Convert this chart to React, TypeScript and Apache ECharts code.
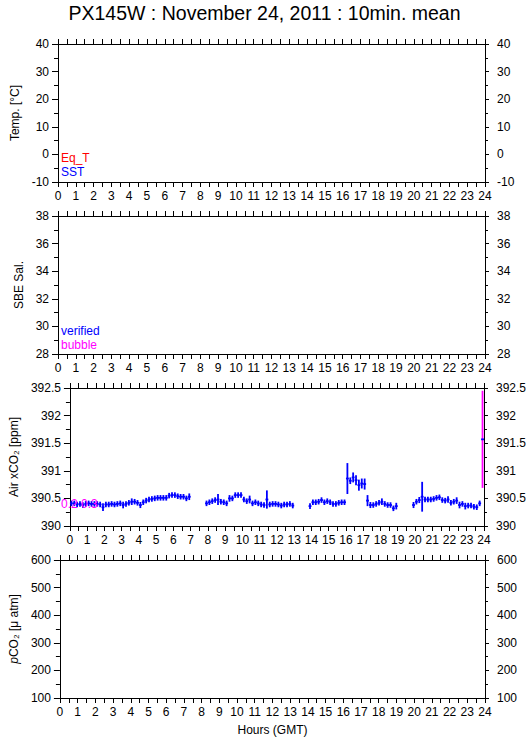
import React, { useEffect, useRef } from "react";
import * as echarts from "echarts";

const TITLE = "PX145W : November 24, 2011 : 10min. mean";
const FONT = '"Liberation Sans", Arial, Helvetica, sans-serif';

// Hour ticks of the shared time axis
const HOUR_MIN = 0;
const HOUR_MAX = 24;

// Y-axis ranges of the four panels
const tempRange = { min: -10, max: 40, interval: 10 };
const salRange = { min: 28, max: 38, interval: 2 };
const xco2Range = { min: 390, max: 392.5, interval: 0.5 };
const pco2Range = { min: 100, max: 600, interval: 100 };

// Air xCO2, verified 10-min means: time (minutes GMT), mean (ppm), std dev (ppm)
const xco2Minute = [
  5, 15, 25, 35, 45, 55, 65, 75, 85, 95, 105, 115, 125, 135, 145, 155, 165, 175, 185, 195,
  205, 215, 225, 235, 245, 255, 265, 275, 285, 295, 305, 315, 325, 335, 345, 355, 365, 375, 385, 395,
  405, 415,
  475, 485, 495, 505, 515, 525, 535, 545, 555, 565, 575, 585, 595, 605, 615, 625, 635, 645, 655, 665,
  675, 685, 695, 705, 715, 725, 735, 745, 755, 765, 775,
  835, 845, 855, 865, 875, 885, 895, 905, 915, 925, 935, 945, 955, 965, 975, 985, 995, 1005, 1015, 1025,
  1035, 1045, 1055, 1065, 1075, 1085, 1095, 1105, 1115, 1125, 1135,
  1195, 1205, 1215, 1225, 1235, 1245, 1255, 1265, 1275, 1285, 1295, 1305, 1315, 1325, 1335, 1345, 1355,
  1365, 1375, 1385, 1395, 1405, 1415, 1425,
];
const xco2Value = [
  390.41, 390.41, 390.39, 390.40, 390.38, 390.40, 390.41, 390.40, 390.40, 390.40,
  390.39, 390.34, 390.39, 390.39, 390.40, 390.39, 390.40, 390.41, 390.38, 390.40,
  390.42, 390.44, 390.44, 390.42, 390.38, 390.43, 390.46, 390.48, 390.49, 390.50,
  390.51, 390.51, 390.51, 390.51, 390.55, 390.56, 390.56, 390.54, 390.53, 390.53,
  390.50, 390.53,
  390.41, 390.43, 390.45, 390.47, 390.48, 390.44, 390.43, 390.41, 390.50, 390.50,
  390.56, 390.56, 390.56, 390.48, 390.45, 390.48, 390.41, 390.43, 390.41, 390.39,
  390.38, 390.48, 390.39, 390.40, 390.40, 390.39, 390.37, 390.39, 390.39, 390.40,
  390.37,
  390.36, 390.43, 390.43, 390.44, 390.47, 390.43, 390.45, 390.43, 390.40, 390.40,
  390.42, 390.43, 390.43, 390.86, 390.82, 390.88, 390.83, 390.74, 390.77, 390.76,
  390.46, 390.38, 390.38, 390.40, 390.42, 390.44, 390.40, 390.38, 390.38, 390.32,
  390.36,
  390.38, 390.44, 390.47, 390.53, 390.48, 390.48, 390.48, 390.49, 390.51, 390.52,
  390.47, 390.46, 390.48, 390.42, 390.44, 390.46, 390.38, 390.40, 390.36, 390.37,
  390.37, 390.35, 390.34, 390.41,
];
const xco2Sd = [
  0.05, 0.05, 0.05, 0.05, 0.05, 0.05, 0.05, 0.05, 0.05, 0.05,
  0.05, 0.07, 0.05, 0.05, 0.05, 0.05, 0.05, 0.05, 0.06, 0.05,
  0.05, 0.06, 0.05, 0.05, 0.055, 0.05, 0.05, 0.05, 0.05, 0.05,
  0.05, 0.05, 0.05, 0.05, 0.05, 0.05, 0.05, 0.05, 0.05, 0.05,
  0.05, 0.06,
  0.05, 0.05, 0.05, 0.05, 0.10, 0.05, 0.05, 0.05, 0.06, 0.05,
  0.05, 0.05, 0.05, 0.05, 0.05, 0.07, 0.05, 0.05, 0.05, 0.05,
  0.05, 0.165, 0.05, 0.05, 0.05, 0.05, 0.05, 0.05, 0.05, 0.05,
  0.05,
  0.05, 0.05, 0.05, 0.05, 0.05, 0.05, 0.05, 0.05, 0.05, 0.05,
  0.05, 0.05, 0.05, 0.28, 0.06, 0.09, 0.09, 0.10, 0.09, 0.10,
  0.10, 0.055, 0.05, 0.05, 0.05, 0.06, 0.05, 0.05, 0.05, 0.05,
  0.06,
  0.055, 0.05, 0.055, 0.27, 0.05, 0.05, 0.05, 0.05, 0.05, 0.05,
  0.05, 0.05, 0.06, 0.05, 0.05, 0.06, 0.06, 0.05, 0.06, 0.05,
  0.05, 0.05, 0.05, 0.05,
];

// Air xCO2, bubble-flagged 10-min mean
const bubbleMinute = [1435];
const bubbleValue = [391.57];
const bubbleSd = [0.88];

const BLUE = "#0000ff";
const MAGENTA = "#ff00ff";
const RED = "#ff0000";

const GRID_TOPS = [44, 216, 388, 560];
const GRID_H = 138;
const GRID_LEFT = 58;
const GRID_RIGHT = 44;

const blackLine = { color: "#000", width: 1 };

function makeCrossRenderer(vColor: string) {
  return (params: any, api: any) => {
    const t = api.value(0);
    const v = api.value(1);
    const sd = api.value(2);
    const c = api.coord([t, v]);
    const l = api.coord([t - 5 / 60, v]);
    const r = api.coord([t + 5 / 60, v]);
    const top = api.coord([t, v + sd]);
    const bot = api.coord([t, v - sd]);
    return {
      type: "group",
      children: [
        {
          type: "line",
          shape: { x1: c[0], y1: top[1], x2: c[0], y2: bot[1] },
          style: { stroke: vColor, lineWidth: 1.8 },
        },
        {
          type: "line",
          shape: { x1: l[0], y1: c[1], x2: r[0], y2: c[1] },
          style: { stroke: BLUE, lineWidth: 1.8 },
        },
      ],
    };
  };
}

export default function App() {
  const ref = useRef<HTMLDivElement>(null);

  useEffect(() => {
    if (!ref.current) return;
    const chart = echarts.init(ref.current, undefined, { renderer: "svg" });

    const ranges = [tempRange, salRange, xco2Range, pco2Range];
    const names = [
      { text: "Temp. [°C]", gap: 29 },
      { text: "SBE Sal.", gap: 29 },
      { text: "Air xCO₂ [ppm]", gap: 41 },
      { text: "{i|p}CO₂ [μ atm]", gap: 31 },
    ];

    const grids = GRID_TOPS.map((top) => ({
      left: GRID_LEFT,
      right: GRID_RIGHT,
      top,
      height: GRID_H,
      containLabel: false,
    }));

    const xAxes: any[] = [];
    const yAxes: any[] = [];
    GRID_TOPS.forEach((_, i) => {
      const common = {
        type: "value",
        gridIndex: i,
        min: HOUR_MIN,
        max: HOUR_MAX,
        interval: 1,
        axisLine: { show: true, onZero: false, lineStyle: blackLine },
        axisTick: { show: true, inside: false, length: 5, lineStyle: blackLine },
        minorTick: { show: true, splitNumber: 2, length: 5, lineStyle: blackLine },
        splitLine: { show: false },
        minorSplitLine: { show: false },
      };
      xAxes.push({
        ...common,
        position: "bottom",
        axisLabel: { show: true, color: "#000", fontSize: 12, fontFamily: FONT, margin: 8 },
        name: i === 3 ? "Hours (GMT)" : "",
        nameLocation: "middle",
        nameGap: 26,
        nameTextStyle: { color: "#000", fontSize: 12, fontFamily: FONT },
      });
      xAxes.push({
        ...common,
        position: "top",
        axisLabel: { show: false },
      });

      const rg = ranges[i];
      const ycommon = {
        type: "value",
        gridIndex: i,
        min: rg.min,
        max: rg.max,
        interval: rg.interval,
        axisLine: { show: true, onZero: false, lineStyle: blackLine },
        splitLine: { show: false },
        minorSplitLine: { show: false },
      };
      yAxes.push({
        ...ycommon,
        position: "left",
        axisTick: { show: true, inside: false, length: 6, lineStyle: blackLine },
        minorTick: { show: true, splitNumber: 2, length: 4, lineStyle: blackLine },
        axisLabel: { show: true, color: "#000", fontSize: 12, fontFamily: FONT, margin: 9 },
        name: names[i].text,
        nameLocation: "middle",
        nameGap: names[i].gap,
        nameTextStyle: {
          color: "#000",
          fontSize: 12,
          fontFamily: FONT,
          rich: { i: { fontStyle: "italic", fontSize: 12, fontFamily: FONT, color: "#000" } },
        },
      });
      yAxes.push({
        ...ycommon,
        position: "right",
        axisTick: { show: true, inside: false, length: 4, lineStyle: blackLine },
        minorTick: { show: true, splitNumber: 2, length: 3, lineStyle: blackLine },
        axisLabel: { show: true, color: "#000", fontSize: 12, fontFamily: FONT, margin: 12 },
      });
    });

    const verifiedData = xco2Minute.map((m, k) => [m / 60, xco2Value[k], xco2Sd[k]]);
    const bubbleData = bubbleMinute.map((m, k) => [m / 60, bubbleValue[k], bubbleSd[k]]);

    const legendText = (text: string, y: number, color: string, z = 0) => ({
      type: "text",
      x: 61,
      y,
      z,
      style: {
        text,
        fill: color,
        fontSize: 12,
        fontFamily: FONT,
        verticalAlign: "middle",
        align: "left",
      },
    });

    chart.setOption({
      animation: false,
      backgroundColor: "#fff",
      title: {
        text: TITLE,
        left: "center",
        top: -2,
        textStyle: { color: "#000", fontSize: 19.5, fontWeight: "normal", fontFamily: FONT },
      },
      grid: grids,
      xAxis: xAxes,
      yAxis: yAxes,
      graphic: [
        legendText("Eq_T", 158, RED),
        legendText("SST", 172, BLUE),
        legendText("verified", 331, BLUE),
        legendText("bubble", 345, MAGENTA),
        legendText("0.2 0.3", 504, MAGENTA, 10),
      ],
      series: [
        {
          type: "custom",
          name: "verified",
          xAxisIndex: 4,
          yAxisIndex: 4,
          data: verifiedData,
          renderItem: makeCrossRenderer(BLUE),
          z: 5,
        },
        {
          type: "custom",
          name: "bubble",
          xAxisIndex: 4,
          yAxisIndex: 4,
          data: bubbleData,
          renderItem: makeCrossRenderer(MAGENTA),
          z: 5,
        },
      ],
    });

    return () => chart.dispose();
  }, []);

  return (
    <div
      ref={ref}
      style={{ position: "absolute", left: 0, top: 0, width: 529, height: 739, background: "#fff" }}
    />
  );
}
